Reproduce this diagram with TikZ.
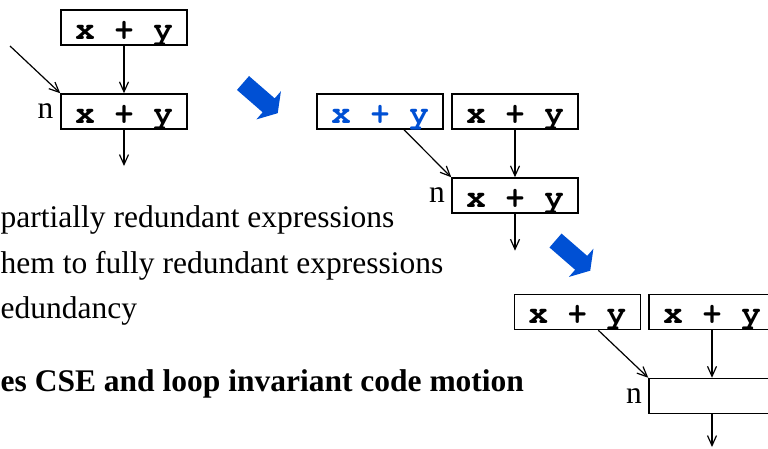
\documentclass[tikz,border=0pt]{standalone}
\usepackage[T1]{fontenc}
\usepackage{fontspec}
\setmainfont{Liberation Serif}
\usetikzlibrary{arrows.meta}

\definecolor{bleu}{RGB}{0,80,212}
\newcommand{\codefont}{\fontencoding{T1}\fontfamily{pcr}\fontseries{b}\fontsize{32.5}{36}\selectfont}
\newcommand{\textefont}{\fontsize{31.5}{36}\selectfont}

\tikzset{
  expr/.style={draw, line width=1.5pt, minimum width=126pt, inner sep=0pt,
    text height=29pt, text depth=6pt, font=\codefont},
  fleche/.style={-{Straight Barb[length=10pt,width=9pt]}, line width=1.2pt},
  etiq/.style={anchor=base east, inner sep=0pt, font=\textefont},
  puce/.style={anchor=base west, inner sep=0pt, font=\textefont},
  grossefleche/.pic={
    \fill[bleu] (0,9.2) -- (34,9.2) -- (34,18.7) -- (46,0)
      -- (34,-18.7) -- (34,-9.2) -- (0,-9.2) -- cycle;
  }
}

\begin{document}
\begin{tikzpicture}[x=1pt,y=-1pt]

\useasboundingbox (0,0) rectangle (768,448);
\clip (0,0) rectangle (768,448);

% Avant
\node[expr] (haut1) at (124,27.5) {x + y};
\node[expr] (n1) at (124,111.5) {x + y};
\node[etiq] (lab1) at (53.5,118) {n};
\coordinate (entree1) at (10,46);
\coordinate (sortie1) at (124,166);

\draw[fleche] (haut1) -- (n1);
\draw[fleche] (entree1) -- (n1.north west);
\draw[fleche] (n1) -- (sortie1);

% Insertion
\pic[rotate=-41] at (243,83) {grossefleche};

\node[expr, text=bleu] (ins2) at (380,111.5) {x + y};
\node[expr] (haut2) at (515,111.5) {x + y};
\node[expr] (n2) at (515,195.5) {x + y};
\node[etiq] (lab2) at (445,202.7) {n};
\coordinate (sortie2) at (515,250.7);

\draw[fleche] ([xshift=24pt]ins2.south) -- (n2.north west);
\draw[fleche] (haut2) -- (n2);
\draw[fleche] (n2) -- (sortie2);

% Suppression
\pic[rotate=-41] at (555.5,240.5) {grossefleche};

\node[expr] (gauche3) at (577.3,312) {x + y};
\node[expr] (haut3) at (712,312) {x + y};
\node[expr] (n3) at (712,396) {};
\node[etiq] (lab3) at (642,403) {n};
\coordinate (sortie3) at (712,447);

\draw[fleche] ([xshift=21pt]gauche3.south) -- (n3.north west);
\draw[fleche] (haut3) -- (n3);
\draw[fleche] (n3) -- (sortie3);

% Texte
\node[puce] (ligne1) at (0.5,227) {partially redundant expressions};
\node[puce] (ligne2) at (0.5,273) {hem to fully redundant expressions};
\node[puce] (ligne3) at (0.5,318) {edundancy};
\node[puce, font=\textefont\bfseries] (ligne4) at (0.5,391)
{es CSE and loop invariant code motion};

\end{tikzpicture}
\end{document}
